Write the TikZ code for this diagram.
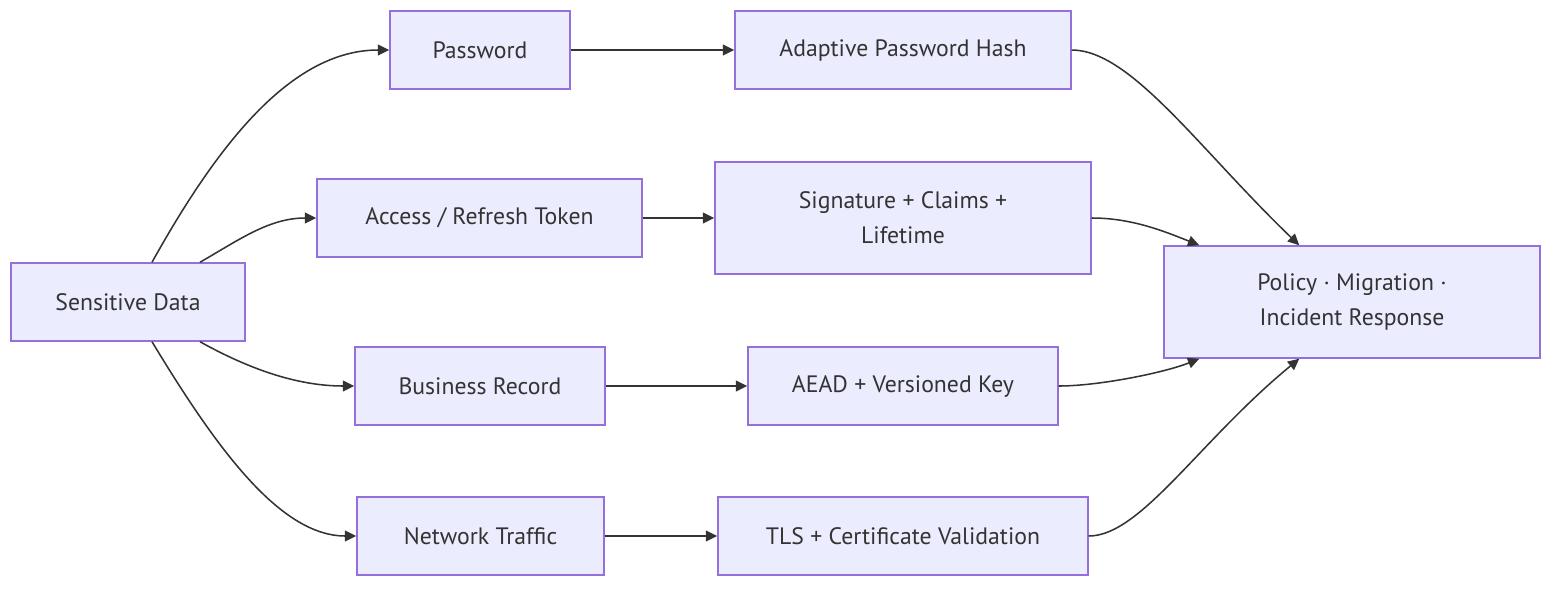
\documentclass[tikz,border=0pt]{standalone}
\usepackage{fontspec}
\setmainfont{PT Sans}
\usetikzlibrary{arrows.meta,calc}
\definecolor{nodefill}{HTML}{ECECFF}
\definecolor{nodeline}{HTML}{9370DB}
\definecolor{ink}{HTML}{333333}
\tikzset{
  box/.style={draw=nodeline, fill=nodefill, line width=1.1pt, inner sep=0pt, text=ink,
    minimum height=58.5pt, align=center, font=\fontsize{17.8}{26.5}\selectfont},
  link/.style={draw=ink, line width=1.15pt, -{Triangle[length=8.5pt,width=8pt]}}
}
\begin{document}
\begin{tikzpicture}[x=0.75pt,y=-0.75pt]
\useasboundingbox (0,0) rectangle (1568,594);
\node[box, minimum width=175.5pt] (sd) at (128,302) {Sensitive Data};
\node[box, minimum width=135pt] (pw) at (480,50) {Password};
\node[box, minimum width=252pt] (aph) at (903,50) {Adaptive Password Hash};
\node[box, minimum width=243.75pt] (tok) at (479.5,218) {Access / Refresh Token};
\node[box, minimum width=282pt, minimum height=84pt] (sig) at (903,218) {Signature + Claims +\\Lifetime};
\node[box, minimum width=187.5pt] (br) at (480,386) {Business Record};
\node[box, minimum width=232.5pt] (aead) at (903,386) {AEAD + Versioned Key};
\node[box, minimum width=185.25pt] (nt) at (480.5,536) {Network Traffic};
\node[box, minimum width=277.5pt] (tls) at (903,536) {TLS + Certificate Validation};
\node[box, minimum width=282pt, minimum height=84pt] (pol) at (1352,302) {Policy · Migration ·\\Incident Response};

\draw[link] ($(sd.north)+(24,0)$) .. controls +(63,-113) and +(-100,0) .. (pw.west);
\draw[link] ($(sd.north)+(72,0)$) .. controls +(40,-23) and +(-47,0) .. (tok.west);
\draw[link] ($(sd.south)+(72,0)$) .. controls +(45,25) and +(-60,0) .. (br.west);
\draw[link] ($(sd.south)+(24,0)$) .. controls +(63,104) and +(-77,0) .. (nt.west);

\draw[link] (pw.east) -- (aph.west);
\draw[link] (tok.east) -- (sig.west);
\draw[link] (br.east) -- (aead.west);
\draw[link] (nt.east) -- (tls.west);

\draw[link] (aph.east) .. controls +(59,0) and +(-100,-96) .. ($(pol.north west)+(136,0)$);
\draw[link] (sig.east) .. controls +(40,0) and +(-35,-14) .. ($(pol.north west)+(36,0)$);
\draw[link] (aead.east) .. controls +(40,0) and +(-35,14) .. ($(pol.south west)+(36,0)$);
\draw[link] (tls.east) .. controls +(52,0) and +(-100,82) .. ($(pol.south west)+(136,0)$);
\end{tikzpicture}
\end{document}
